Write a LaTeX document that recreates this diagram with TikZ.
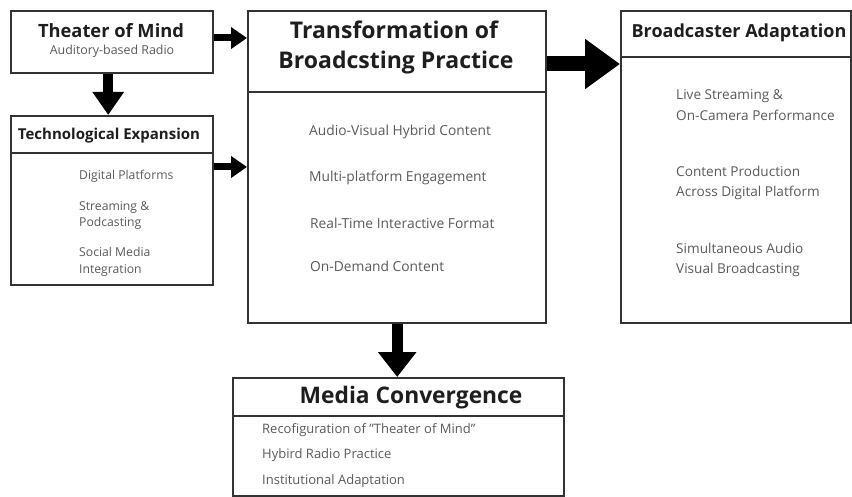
\documentclass[tikz,border=0pt]{standalone}
\usepackage{fontspec}
\setmainfont{Open Sans}
\usetikzlibrary{arrows.meta,calc}
\definecolor{edge}{HTML}{333333}
\definecolor{ttlc}{HTML}{1E1E1E}
\definecolor{itmc}{HTML}{5A5A5A}
\begin{document}
\begin{tikzpicture}[x=1pt,y=-1pt,
 box/.style={draw=edge, line width=2.4pt, rectangle, inner sep=0pt, anchor=north west},
 div/.style={draw=edge, line width=2.4pt},
 ttl/.style={font=\bfseries\fontsize{#1}{#1}\selectfont, text=ttlc, inner sep=0pt},
 ttl/.default=16,
 itm/.style={font=\fontsize{#1}{#1}\selectfont, text=itmc, inner sep=0pt, anchor=west, align=left},
 itm/.default=12,
 bigarrow/.style={line width=15pt, -{Triangle[length=35pt,width=48pt]}},
 midarrow/.style={line width=10pt, -{Triangle[length=23pt,width=30pt]}},
 smallarrow/.style={line width=7pt, -{Triangle[length=16pt,width=21pt]}}
]
\useasboundingbox (0,0) rectangle (852,497);

% Theater of Mind
\node[box, minimum width=202pt, minimum height=62pt] (theater) at (10,10) {};
\node[ttl=18.3] (theaterT) at (111,31) {Theater of Mind};
\node[font=\fontsize{12.4}{12.4}\selectfont, text=itmc, inner sep=0pt] (theaterS) at (112,51) {Auditory-based Radio};

% Technological Expansion
\node[box, minimum width=202pt, minimum height=169pt] (tech) at (10,115) {};
\draw[div] (10,153) -- (212,153);
\node[ttl=15] (techT) at (109,136) {Technological Expansion};
\node[itm=12.2] (t1) at (79,176) {Digital Platforms};
\node[itm=12.2, align=left] (t2) at (79,215.5) {Streaming \&\\[4.5pt]Podcasting};
\node[itm=12.2, align=left] (t3) at (79,262) {Social Media\\[4.5pt]Integration};

% Transformation
\node[box, minimum width=298pt, minimum height=312pt] (trans) at (247,10) {};
\draw[div] (247,92) -- (545,92);
\node[ttl=23] (transT1) at (394,30) {Transformation of};
\node[ttl=23] (transT2) at (396,63) {Broadcsting Practice};
\node[itm=13.8] (r1) at (309,132) {Audio-Visual Hybrid Content};
\node[itm=13.8] (r2) at (309,178) {Multi-platform Engagement};
\node[itm=13.8] (r3) at (310,223) {Real-Time Interactive Format};
\node[itm=13.8] (r4) at (310,266) {On-Demand Content};

% Broadcaster Adaptation
\node[box, minimum width=230pt, minimum height=312pt] (broad) at (620,10) {};
\draw[div] (620,57) -- (850,57);
\node[ttl=18] (broadT) at (739,33) {Broadcaster Adaptation};
\node[itm=13.6] (b1) at (676,105) {Live Streaming \&\\[6pt]On-Camera Performance};
\node[itm=13.6] (b2) at (676,183) {Content Production\\[6pt]Across Digital Platform};
\node[itm=13.6] (b3) at (676,260) {Simultaneous Audio\\[6pt]Visual Broadcasting};

% Media Convergence
\node[box, minimum width=331pt, minimum height=118pt] (media) at (232,377) {};
\draw[div] (232,416) -- (563,416);
\node[ttl=22.8] (mediaT) at (411,398) {Media Convergence};
\node[itm=13] (m1) at (262,430) {Recofiguration of "Theater of Mind"};
\node[itm=13] (m2) at (262,455) {Hybird Radio Practice};
\node[itm=13] (m3) at (262,481) {Institutional Adaptation};

% Connectors
\draw[midarrow] ([xshift=-4pt]theater.south) -- ([xshift=-4pt]tech.north);
\draw[smallarrow] ([yshift=-28pt]theater.north east) -- ([yshift=-28pt]theater.north east -| trans.west);
\draw[smallarrow] ([yshift=-52pt]tech.north east) -- ([yshift=-52pt]tech.north east -| trans.west);
\draw[bigarrow] ([yshift=-54pt]trans.north east) -- ([yshift=-54pt]trans.north east -| broad.west);
\draw[midarrow, line width=11pt, -{Triangle[length=25pt,width=37pt]}] (trans.south) -- (trans.south |- media.north);
\end{tikzpicture}
\end{document}
